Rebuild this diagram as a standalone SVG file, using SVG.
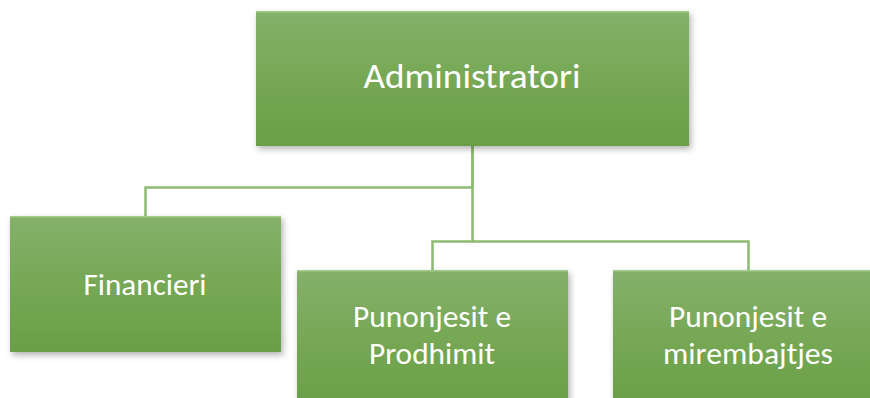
<svg xmlns="http://www.w3.org/2000/svg" width="870" height="398" viewBox="0 0 870 398">
<defs>
<linearGradient id="g" x1="0" y1="0" x2="0" y2="1">
<stop offset="0" stop-color="#85b16b"/>
<stop offset="0.5" stop-color="#76a855"/>
<stop offset="1" stop-color="#6a9f46"/>
</linearGradient>
<filter id="sh" x="-10%" y="-10%" width="125%" height="130%">
<feDropShadow dx="2" dy="3" stdDeviation="3" flood-color="#000" flood-opacity="0.3"/>
</filter>
</defs>
<style>
.box{fill:url(#g);filter:url(#sh)}
.hl{fill:none;stroke:#a3cb8b;stroke-width:1.5}
.lbl{font-family:Carlito,Calibri,Lato,"Liberation Sans",sans-serif;fill:#fff;text-anchor:middle}
.con{fill:none;stroke:#8cbb72;stroke-width:2.5}
</style>
<rect width="870" height="398" fill="#fff"/>
<g id="connectors">
<path class="con" d="M472.5 146 V187.5 H145.5 V216"/>
<path class="con" d="M472.5 146 V241.5 H432.5 V270 M472.5 241.5 H748.5 V270"/>
</g>
<g id="administratori">
<rect class="box" x="256" y="11" width="433" height="135"/>
<line class="hl" x1="256" y1="11.8" x2="689" y2="11.8"/>
<text class="lbl" x="472" y="88" font-size="35" textLength="217" lengthAdjust="spacingAndGlyphs">Administratori</text>
</g>
<g id="financieri">
<rect class="box" x="10" y="216" width="271" height="136"/>
<line class="hl" x1="10" y1="216.8" x2="281" y2="216.8"/>
<text class="lbl" x="145" y="295" font-size="30" textLength="123" lengthAdjust="spacingAndGlyphs">Financieri</text>
</g>
<g id="prodhimit">
<rect class="box" x="297" y="270" width="271" height="136"/>
<line class="hl" x1="297" y1="270.8" x2="568" y2="270.8"/>
<text class="lbl" x="432" y="326.5" font-size="30" textLength="158" lengthAdjust="spacingAndGlyphs">Punonjesit e</text>
<text class="lbl" x="432" y="363.5" font-size="30" textLength="126" lengthAdjust="spacingAndGlyphs">Prodhimit</text>
</g>
<g id="mirembajtjes">
<rect class="box" x="613" y="270" width="271" height="136"/>
<line class="hl" x1="613" y1="270.8" x2="884" y2="270.8"/>
<text class="lbl" x="748" y="326.5" font-size="30" textLength="158" lengthAdjust="spacingAndGlyphs">Punonjesit e</text>
<text class="lbl" x="748" y="363.5" font-size="30" textLength="170" lengthAdjust="spacingAndGlyphs">mirembajtjes</text>
</g>
</svg>
